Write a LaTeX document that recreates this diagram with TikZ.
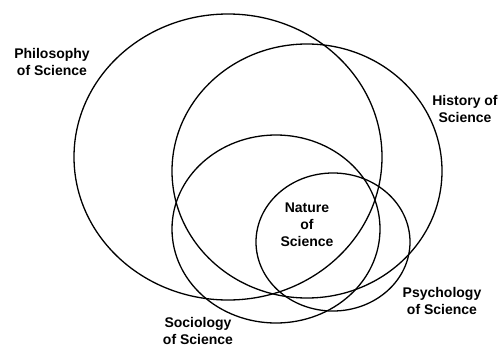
\documentclass[tikz,border=0pt]{standalone}
\usepackage{fontspec}
\setmainfont{Liberation Sans}
\tikzset{
  ring/.style={draw=black, line width=1.3pt},
  lbl/.style={font=\fontsize{14}{17}\selectfont\bfseries, align=center, inner sep=0pt}
}
\begin{document}
\begin{tikzpicture}[x=1pt,y=-1pt]
\useasboundingbox (0,0) rectangle (503,348);
\draw[ring] (228,157) ellipse [x radius=154, y radius=143];
\draw[ring] (307,171) ellipse [x radius=135, y radius=127];
\draw[ring] (276,229) ellipse [x radius=104, y radius=94];
\draw[ring] (333,242) ellipse [x radius=77, y radius=69];
\node[lbl] (phil) at (52,62) {Philosophy\\of Science};
\node[lbl] (hist) at (465,109) {History of\\Science};
\node[lbl] (nat) at (307,225) {Nature\\of\\Science};
\node[lbl] (psy) at (442,301) {Psychology\\of Science};
\node[lbl] (soc) at (198,331) {Sociology\\of Science};
\end{tikzpicture}
\end{document}
